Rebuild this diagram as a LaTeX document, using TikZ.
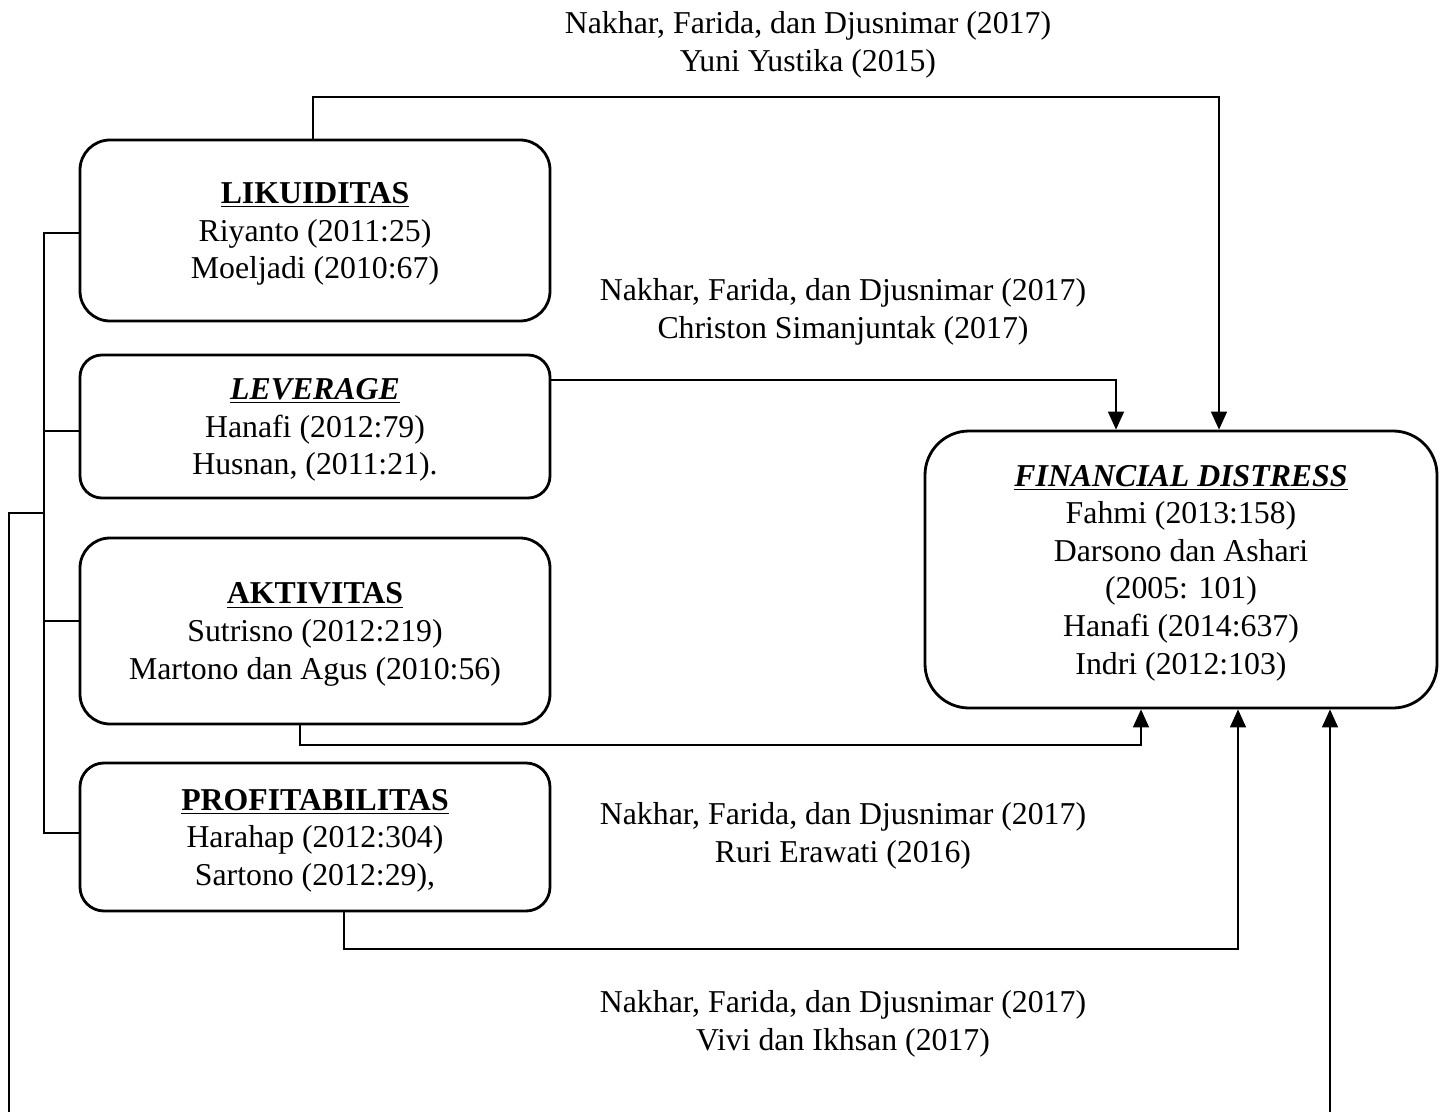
\documentclass[tikz,border=0pt]{standalone}
\usepackage{fontspec}
\setmainfont{Liberation Serif}
\usetikzlibrary{arrows.meta}
\begin{document}
\begin{tikzpicture}[x=0.5pt,y=-0.5pt,
  every node/.style={font=\fontsize{15.9}{18.8}\selectfont},
  varbox/.style={draw,line width=1.4pt,rounded corners=15pt,align=center,inner sep=0pt},
  conn/.style={line width=0.7pt},
  arr/.style={conn,-{Triangle[length=9pt,width=8pt]}},
  lbl/.style={align=center,inner sep=0pt}]
\useasboundingbox (0,0) rectangle (1445,1112);

% boxes
\node[varbox,minimum width=235pt,minimum height=90.5pt] (lik) at (315,230.5)
  {\rule{0pt}{14pt}\underline{\textbf{LIKUIDITAS}}\\Riyanto (2011:25)\\Moeljadi (2010:67)};
\node[varbox,rounded corners=11pt,minimum width=235pt,minimum height=71.5pt] (lev) at (315,426.5)
  {\rule{0pt}{14pt}\underline{\textbf{\textit{LEVERAGE}}}\\Hanafi (2012:79)\\Husnan, (2011:21).};
\node[varbox,minimum width=235pt,minimum height=93pt] (akt) at (315,631)
  {\rule{0pt}{14pt}\underline{\textbf{AKTIVITAS}}\\Sutrisno (2012:219)\\Martono dan Agus (2010:56)};
\node[varbox,rounded corners=12pt,minimum width=235pt,minimum height=74pt] (pro) at (315,837)
  {\rule{0pt}{14pt}\underline{\textbf{PROFITABILITAS}}\\Harahap (2012:304)\\Sartono (2012:29),};
\node[varbox,rounded corners=22pt,minimum width=256pt,minimum height=138.5pt] (fd) at (1181,569.5)
  {\rule{0pt}{14pt}\underline{\textbf{\textit{FINANCIAL DISTRESS}}}\\Fahmi (2013:158)\\Darsono dan Ashari\\(2005: 101)\\Hanafi (2014:637)\\Indri (2012:103)};

% labels
\node[lbl] (l1) at (808,45) {Nakhar, Farida, dan Djusnimar (2017)\\Yuni Yustika (2015)};
\node[lbl] (l2) at (843,312) {Nakhar, Farida, dan Djusnimar (2017)\\Christon Simanjuntak (2017)};
\node[lbl] (l3) at (843,836) {Nakhar, Farida, dan Djusnimar (2017)\\Ruri Erawati (2016)};
\node[lbl] (l4) at (843,1024) {Nakhar, Farida, dan Djusnimar (2017)\\Vivi dan Ikhsan (2017)};

% route coordinates
\coordinate (likout) at (313,140);
\coordinate (t1) at (1219,97);
\coordinate (levout) at (549,380);
\coordinate (t2) at (1116,380);
\coordinate (aktout) at (300,724);
\coordinate (t3) at (1141,745);
\coordinate (proout) at (344,911);
\coordinate (t4) at (1238,949);
\coordinate (bl) at (44,233);
\coordinate (bb) at (44,833);
\coordinate (bm) at (44,513);
\coordinate (bx) at (9,513);
\coordinate (bend1) at (9,1112);
\coordinate (bend2) at (1330,1112);

% connectors
\draw[arr] (likout) |- (t1) -- (t1 |- fd.north);
\draw[arr] (levout) -- (t2) -- (t2 |- fd.north);
\draw[arr] (aktout) |- (t3) -- (t3 |- fd.south);
\draw[arr] (proout) |- (t4) -- (t4 |- fd.south);
\draw[conn] (bl -| lik.west) -- (bl) -- (bb) -- (bb -| pro.west);
\draw[conn] (44,431) -- (lev.west |- 44,431);
\draw[conn] (44,621) -- (akt.west |- 44,621);
\draw[conn] (bm) -- (bx) -- (bend1);
\draw[arr] (bend2) -- (bend2 |- fd.south);
\end{tikzpicture}
\end{document}
